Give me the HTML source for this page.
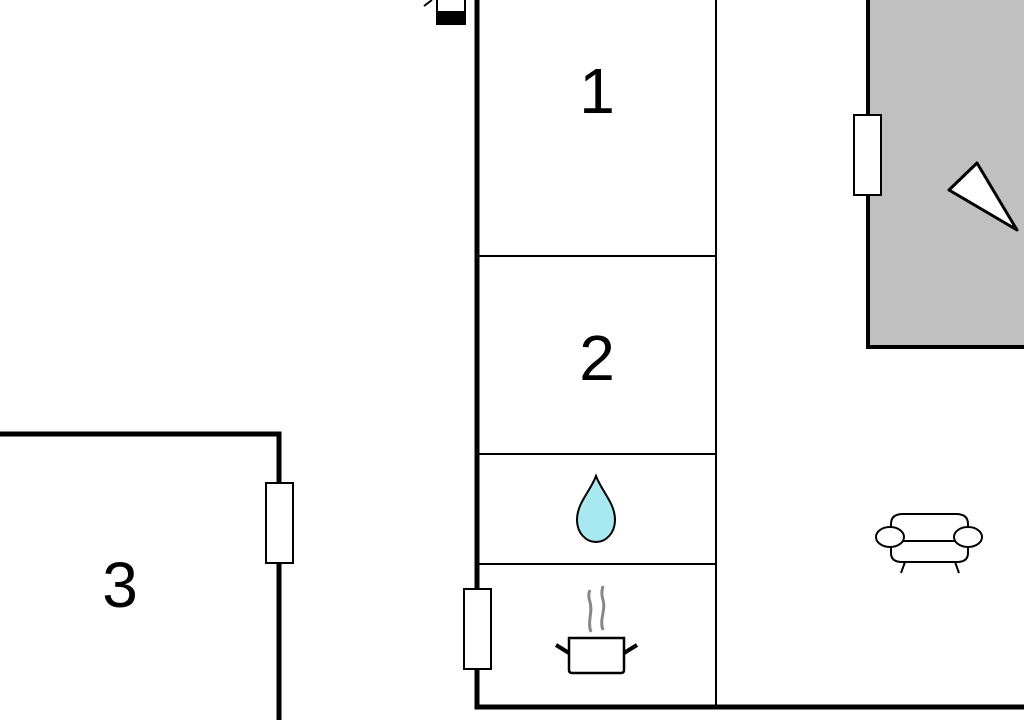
<!DOCTYPE html>
<html><head><meta charset="utf-8"><style>
html,body{margin:0;padding:0;background:#fff;width:1024px;height:720px;overflow:hidden}
svg{display:block}
text{font-family:"Liberation Sans",sans-serif;font-size:64px;fill:#000}
</style></head><body>
<svg width="1024" height="720" viewBox="0 0 1024 720" xmlns="http://www.w3.org/2000/svg">
<rect x="0" y="0" width="1024" height="720" fill="#fff"/>
<!-- gray room -->
<rect x="868" y="-10" width="170" height="357" fill="#c0c0c0" stroke="#000" stroke-width="4"/>
<rect x="854" y="115" width="27" height="80" fill="#fff" stroke="#000" stroke-width="2"/>
<polygon points="949,190 977,163 1017,230" fill="#fff" stroke="#000" stroke-width="3" stroke-linejoin="round"/>
<!-- central walls -->
<path d="M477,0 V707 H1024" fill="none" stroke="#000" stroke-width="5"/>
<line x1="716" y1="0" x2="716" y2="707" stroke="#000" stroke-width="2"/>
<line x1="477" y1="256" x2="716" y2="256" stroke="#000" stroke-width="2"/>
<line x1="477" y1="454" x2="716" y2="454" stroke="#000" stroke-width="2"/>
<line x1="477" y1="564" x2="716" y2="564" stroke="#000" stroke-width="2"/>
<rect x="464" y="589" width="27" height="80" fill="#fff" stroke="#000" stroke-width="2"/>
<!-- room 3 -->
<path d="M0,434 H279 V720" fill="none" stroke="#000" stroke-width="5"/>
<rect x="266" y="483" width="27" height="80" fill="#fff" stroke="#000" stroke-width="2"/>
<!-- labels -->
<text x="597" y="113" text-anchor="middle">1</text>
<text x="597" y="380" text-anchor="middle">2</text>
<text x="120" y="607" text-anchor="middle">3</text>
<!-- top icon -->
<rect x="437" y="-2" width="28" height="26" fill="#fff" stroke="#000" stroke-width="2"/>
<rect x="437" y="11" width="28" height="14" fill="#000"/>
<line x1="424" y1="6" x2="432" y2="0" stroke="#000" stroke-width="2"/>
<!-- drop -->
<path d="M596,476 C590,492 577,503 577,520 C577,533 586,542 596,542 C606,542 615,533 615,520 C615,503 602,492 596,476 Z" fill="#a8e8f0" stroke="#000" stroke-width="2"/>
<!-- pot -->
<path d="M591,632 C587,622 593,612 590,602 C588,596 589,592 590,590" fill="none" stroke="#888" stroke-width="3"/>
<path d="M603,630 C599,620 606,610 603,600 C601,594 602,590 603,586" fill="none" stroke="#888" stroke-width="3"/>
<path d="M569,638 H624 V670 Q624,673 621,673 H572 Q569,673 569,670 Z" fill="#fff" stroke="#000" stroke-width="2.5"/>
<line x1="556" y1="645" x2="569" y2="653" stroke="#000" stroke-width="4"/>
<line x1="637" y1="645" x2="624" y2="653" stroke="#000" stroke-width="4"/>
<!-- sofa -->
<g fill="#fff" stroke="#000" stroke-width="2">
<path d="M891,541 V524 Q891,514 903,514 H956 Q968,514 968,524 V541"/>
<path d="M891,541 V553 Q891,562 902,562 H957 Q968,562 968,553 V541"/>
<line x1="895" y1="541" x2="964" y2="541"/>
<ellipse cx="890" cy="537" rx="14" ry="10"/>
<ellipse cx="968" cy="537" rx="14" ry="10"/>
<line x1="905" y1="562" x2="901" y2="573"/>
<line x1="955" y1="562" x2="959" y2="573"/>
</g>
</svg>
</body></html>
